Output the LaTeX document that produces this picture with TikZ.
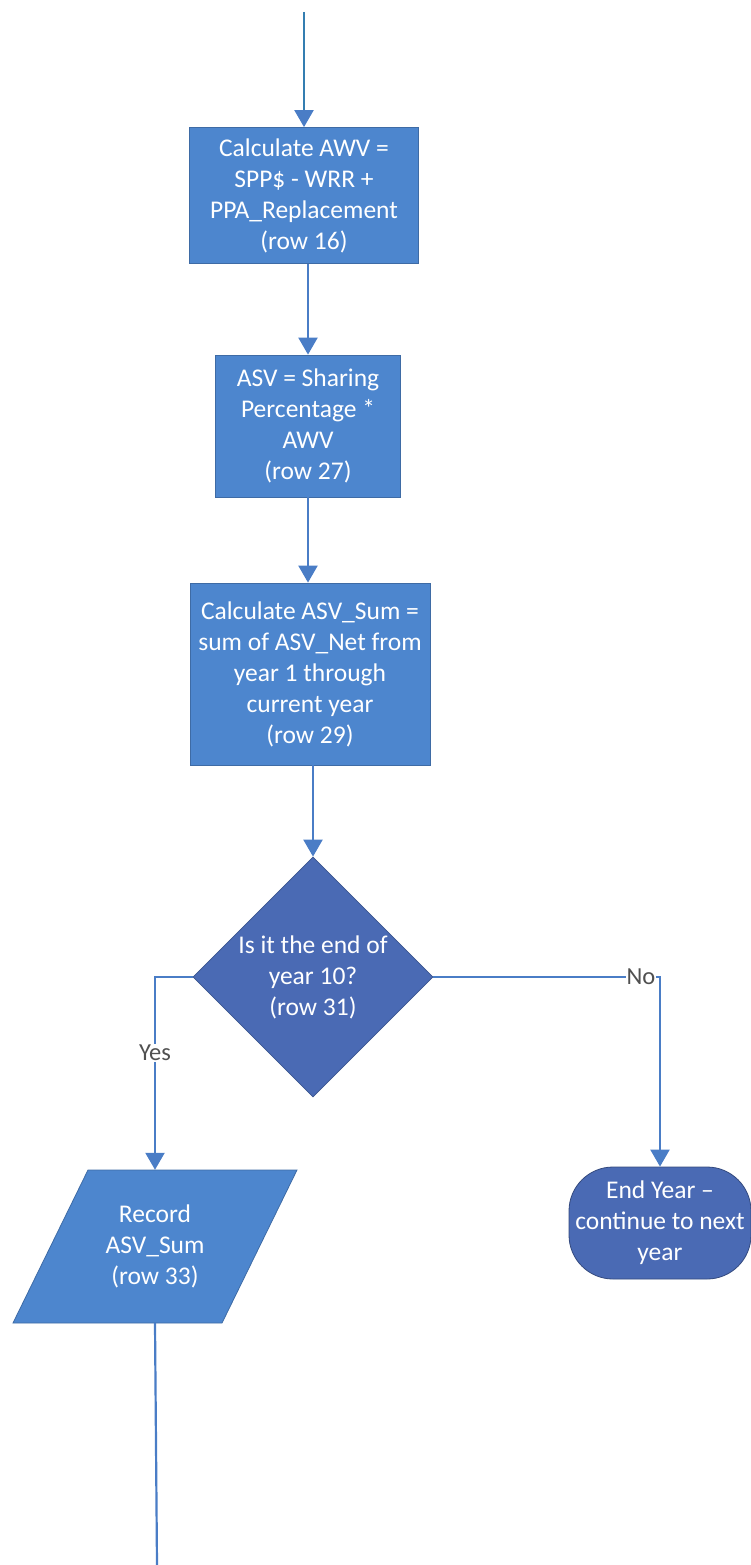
\documentclass[tikz,border=0pt]{standalone}
\usepackage{fontspec}
\setmainfont{Carlito}
\usetikzlibrary{shapes.geometric,arrows.meta}
\definecolor{boxblue}{HTML}{4D86CE}
\definecolor{darkblue}{HTML}{4A6AB4}
\definecolor{lineblue}{HTML}{4A7DC6}
\definecolor{labelgray}{HTML}{505050}
\begin{document}
\begin{tikzpicture}[x=1pt,y=-1pt,
  txt/.style={text=white, align=center, font=\fontsize{25.5}{31}\selectfont, inner sep=0pt},
  proc/.style={txt, rectangle, fill=boxblue, draw=boxblue!80!black, line width=0.8pt},
  decide/.style={txt, diamond, fill=darkblue, draw=darkblue!80!black, line width=0.8pt, minimum width=240pt, minimum height=240pt},
  para/.style={fill=boxblue, draw=boxblue!80!black, line width=0.8pt},
  iotext/.style={txt, rectangle, minimum width=209pt, minimum height=153pt},
  term/.style={txt, rectangle, rounded corners=44pt, fill=darkblue, draw=darkblue!70!black, line width=0.8pt},
  conn/.style={draw=lineblue, line width=2.2pt, -{Triangle[width=19pt,length=17pt,color=lineblue]}},
  plain/.style={draw=lineblue, line width=2.2pt},
  lbl/.style={fill=white, text=labelgray, inner sep=1pt, font=\fontsize{24.5}{28}\selectfont}
]
\useasboundingbox (0,0) rectangle (751,1565);
\coordinate (start) at (304,12);
\node[proc, minimum width=229pt, minimum height=136pt] (b1) at (304,195.5) {Calculate AWV =\\SPP\$ - WRR +\\PPA\_Replacement\\(row 16)};
\node[proc, minimum width=185pt, minimum height=142pt] (b2) at (308,426) {ASV = Sharing\\Percentage *\\AWV\\(row 27)};
\node[proc, minimum width=240pt, minimum height=182pt] (b3) at (310,674) {Calculate ASV\_Sum =\\sum of ASV\_Net from\\year 1 through\\current year\\(row 29)};
\node[decide] (d) at (313,977) {Is it the end of\\year 10?\\(row 31)};
\path[para] (88,1170) -- (297,1170) -- (222,1323) -- (13,1323) -- cycle;
\node[iotext] (rec) at (155,1246.5) {Record\\ASV\_Sum\\(row 33)};
\node[term, minimum width=182pt, minimum height=112pt] (end) at (660,1223) {End Year –\\continue to next\\year};
\coordinate (bottom) at (157,1565);

\draw[draw=lineblue!70!teal, line width=2.2pt, -{Triangle[width=19pt,length=17pt,color=lineblue]}] (start) -- (b1.north);
\draw[conn] (b1.south -| b2.north) -- (b2.north);
\draw[conn] (b2.south) -- (b2.south |- b3.north);
\draw[conn] (b3.south -| d.north) -- (d.north);
\draw[conn] (d.west) -| node[lbl, pos=0.697] {Yes} (rec.north);
\draw[conn] (d.east) -| node[lbl, pos=0.458] {No} (end.north);
\draw[plain] (rec.south) -- (bottom);
\end{tikzpicture}
\end{document}
